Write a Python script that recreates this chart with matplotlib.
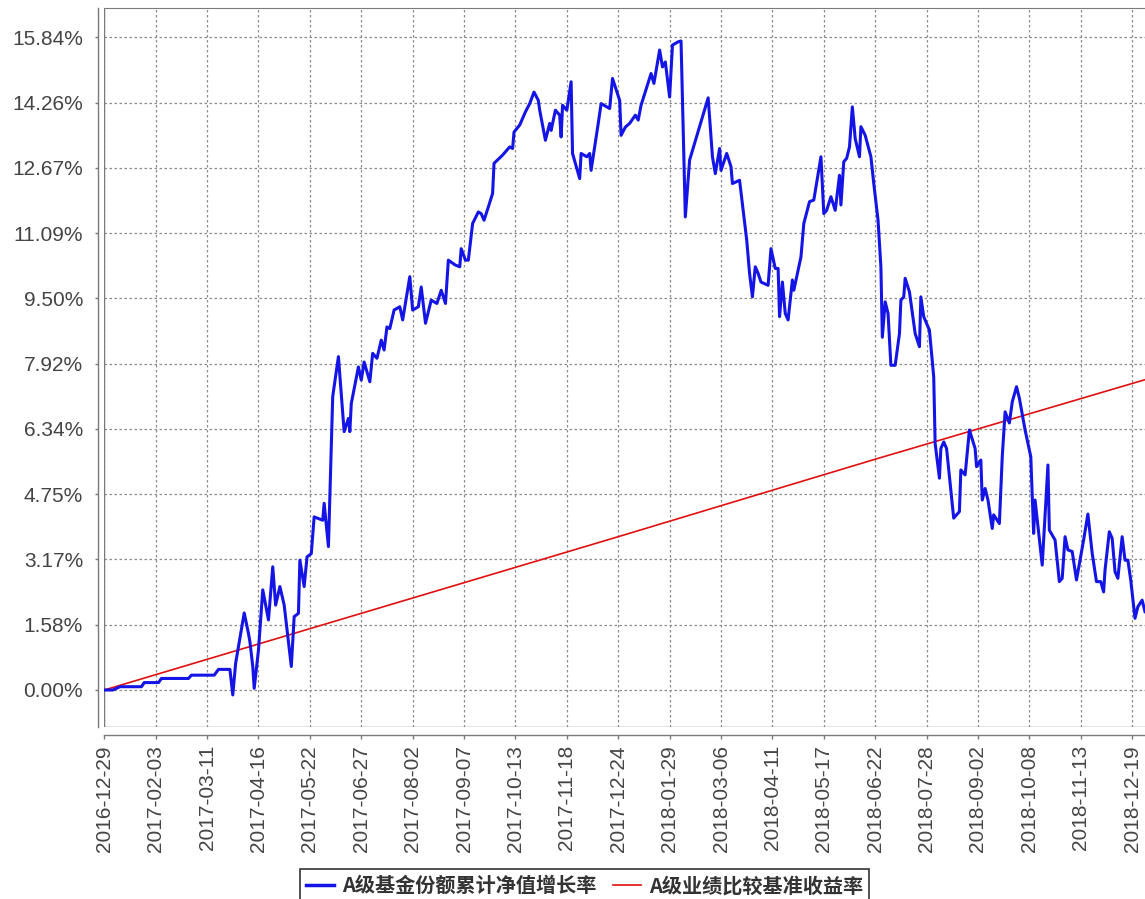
import matplotlib
matplotlib.use("Agg")
import matplotlib.pyplot as plt
from matplotlib.font_manager import FontProperties
import pandas as pd

plt.rcParams['font.family'] = ['Liberation Sans', 'Noto Sans CJK SC', 'DejaVu Sans']

START = pd.Timestamp("2016-12-29")

# fund NAV growth (days since start, %)
nav_day = [0, 6, 11, 26, 28, 38, 40, 59, 61, 77, 80, 88, 90, 92, 98, 101, 102, 104, 105, 108,
           111, 115, 118, 120, 123, 126, 131, 133, 136, 137, 140, 142, 145, 147, 153, 154, 157, 160, 164, 168,
           171, 172, 173, 178, 180, 182, 186, 188, 191, 194, 196, 198, 200, 203, 207, 209, 214, 216, 220, 222,
           225, 229, 233, 236, 239, 241, 246, 249, 250, 253, 255, 258, 262, 264, 266, 269, 272, 273, 279, 284,
           286, 287, 291, 295, 298, 301, 304, 305, 309, 312, 313, 316, 319, 320, 321, 324, 327, 328, 333, 334,
           338, 340, 341, 346, 348, 354, 356, 361, 362, 365, 368, 372, 374, 376, 380, 383, 385, 389, 391, 393,
           396, 398, 402, 404, 407, 410, 423, 426, 428, 431, 432, 436, 439, 440, 445, 450, 452, 454, 456, 458,
           460, 465, 467, 470, 472, 473, 475, 477, 479, 482, 483, 488, 490, 494, 497, 502, 504, 506, 509, 512,
           515, 516, 518, 520, 522, 524, 526, 529, 530, 533, 537, 539, 542, 544, 545, 547, 549, 551, 554, 557,
           558, 560, 561, 564, 568, 571, 572, 574, 578, 581, 582, 585, 586, 588, 590, 595, 599, 600, 603, 606,
           610, 611, 614, 615, 617, 619, 622, 623, 627, 629, 631, 634, 636, 639, 641, 645, 649, 651, 652, 657,
           661, 662, 666, 669, 671, 673, 675, 678, 681, 686, 689, 692, 695, 698, 700, 701, 704, 706, 708, 710,
           713, 715, 717, 719, 722, 724, 727, 729]
nav_pct = [0.00, 0.00, 0.08, 0.08, 0.18, 0.18, 0.28, 0.28, 0.36, 0.36, 0.50, 0.50, -0.12, 0.65, 1.87, 1.37, 1.17, 0.57, 0.04, 0.97,
           2.43, 1.70, 2.99, 2.06, 2.51, 2.06, 0.57, 1.78, 1.86, 3.15, 2.51, 3.23, 3.31, 4.20, 4.12, 4.53, 3.48, 7.12, 8.09, 6.27,
           6.59, 6.27, 6.95, 7.84, 7.52, 7.96, 7.48, 8.17, 8.05, 8.49, 8.25, 8.81, 8.77, 9.22, 9.30, 8.98, 10.03, 9.22, 9.30, 9.78,
           8.90, 9.46, 9.38, 9.70, 9.38, 10.43, 10.31, 10.27, 10.71, 10.43, 10.43, 11.32, 11.60, 11.56, 11.40, 11.72, 12.05, 12.78, 12.98, 13.18,
           13.14, 13.54, 13.71, 14.03, 14.23, 14.51, 14.31, 14.07, 13.34, 13.75, 13.58, 14.07, 13.95, 13.42, 14.19, 14.07, 14.76, 13.02, 12.41, 13.02,
           12.94, 13.02, 12.61, 13.75, 14.23, 14.11, 14.84, 14.31, 13.46, 13.66, 13.75, 13.95, 13.83, 14.19, 14.63, 14.96, 14.72, 15.53, 15.12, 15.24,
           14.39, 15.65, 15.73, 15.75, 11.48, 12.86, 14.37, 12.94, 12.53, 13.14, 12.61, 13.02, 12.70, 12.29, 12.37, 10.92, 10.11, 9.54, 10.27, 10.11,
           9.90, 9.82, 10.71, 10.23, 10.23, 9.06, 9.90, 9.14, 8.98, 9.95, 9.70, 10.51, 11.32, 11.85, 11.89, 12.94, 11.56, 11.64, 11.97, 11.64,
           12.49, 11.77, 12.82, 12.90, 13.18, 14.15, 13.38, 12.94, 13.67, 13.46, 12.94, 12.29, 11.40, 10.27, 8.56, 9.42, 9.14, 7.88, 7.88, 8.65,
           9.46, 9.54, 9.99, 9.66, 8.65, 8.33, 9.54, 9.06, 8.73, 7.60, 5.98, 5.14, 5.86, 6.02, 5.86, 4.17, 4.33, 5.34, 5.22, 6.31,
           5.86, 5.42, 5.58, 4.61, 4.89, 4.61, 3.92, 4.25, 4.04, 5.66, 6.75, 6.48, 6.99, 7.36, 7.08, 6.31, 5.66, 3.80, 4.61, 3.03,
           5.46, 3.88, 3.64, 2.63, 2.71, 3.72, 3.40, 3.36, 2.67, 3.64, 4.27, 3.32, 2.63, 2.63, 2.38, 2.91, 3.84, 3.68, 2.87, 2.71,
           3.72, 3.15, 3.15, 2.67, 1.74, 2.02, 2.18, 1.90]

# benchmark return (days since start, %)
bench_day = [0, 180, 360, 540, 729]
bench_pct = [0.00, 1.86, 3.72, 5.60, 7.53]

x_tick_labels = ["2016-12-29", "2017-02-03", "2017-03-11", "2017-04-16", "2017-05-22", "2017-06-27",
                 "2017-08-02", "2017-09-07", "2017-10-13", "2017-11-18", "2017-12-24", "2018-01-29",
                 "2018-03-06", "2018-04-11", "2018-05-17", "2018-06-22", "2018-07-28", "2018-09-02",
                 "2018-10-08", "2018-11-13", "2018-12-19"]
y_ticks = [0.0, 1.584, 3.168, 4.752, 6.336, 7.92, 9.504, 11.088, 12.672, 14.256, 15.84]
y_tick_labels = ["0.00%", "1.58%", "3.17%", "4.75%", "6.34%", "7.92%", "9.50%", "11.09%", "12.67%", "14.26%", "15.84%"]

series_labels = ["A级基金份额累计净值增长率", "A级业绩比较基准收益率"]

nav_dates = START + pd.to_timedelta(nav_day, unit="D")
bench_dates = START + pd.to_timedelta(bench_day, unit="D")

W, H = 1145, 899
fig = plt.figure(figsize=(W / 100, H / 100), dpi=100)
ax = fig.add_axes([104.3 / W, 1 - 727 / H, 1 - 104.3 / W, (727 - 8) / H])

l1, = ax.plot(nav_dates, nav_pct, color="#1414e6", lw=2.2, zorder=3)
l2, = ax.plot(bench_dates, bench_pct, color="#e01010", lw=1.2, zorder=2)

ax.set_xlim(START, START + pd.Timedelta(days=729))
ax.set_ylim(-0.898, 16.55)

ax.set_xticks(pd.to_datetime(x_tick_labels))
ax.set_xticklabels(x_tick_labels)
ax.set_yticks(y_ticks)
ax.set_yticklabels(y_tick_labels)

ax.grid(True, color="#8c8c8c", linestyle=(0, (2, 2)), linewidth=0.9)
ax.set_axisbelow(True)

axis_grey = "#7a7a7a"
ax.spines["right"].set_visible(False)
ax.spines["top"].set_color(axis_grey)
for side, off in [("left", 4.8), ("bottom", 6.0)]:
    ax.spines[side].set_position(("outward", off))
    ax.spines[side].set_color(axis_grey)
    ax.spines[side].set_linewidth(1.0)
# plot area border
ax.axvline(ax.get_xlim()[0], color=axis_grey, lw=1.0, zorder=1)
ax.axhline(ax.get_ylim()[0], color=axis_grey, lw=1.0, zorder=1)

ax.tick_params(axis="y", direction="out", length=2.5, width=1, color=axis_grey,
               labelsize=15, labelcolor="#444444", pad=8)
ax.tick_params(axis="x", direction="out", length=3, width=1, color=axis_grey,
               labelsize=15, labelcolor="#444444", pad=4, labelrotation=90)

leg = fig.legend([l1, l2], series_labels, loc="upper center",
                 bbox_to_anchor=(584.5 / W, 1 - 869 / H), ncol=2,
                 frameon=True, fancybox=False, edgecolor="black",
                 prop=FontProperties(family="Noto Sans CJK SC", size=14.5, weight="bold"),
                 handlelength=1.4, handletextpad=0.4, columnspacing=0.8,
                 borderpad=0.3, borderaxespad=0)
leg.get_frame().set_linewidth(1.2)
leg.get_lines()[0].set_linewidth(2.5)
for t in leg.get_texts():
    t.set_color("#333333")

fig.savefig("out.png", dpi=100, facecolor="white")
